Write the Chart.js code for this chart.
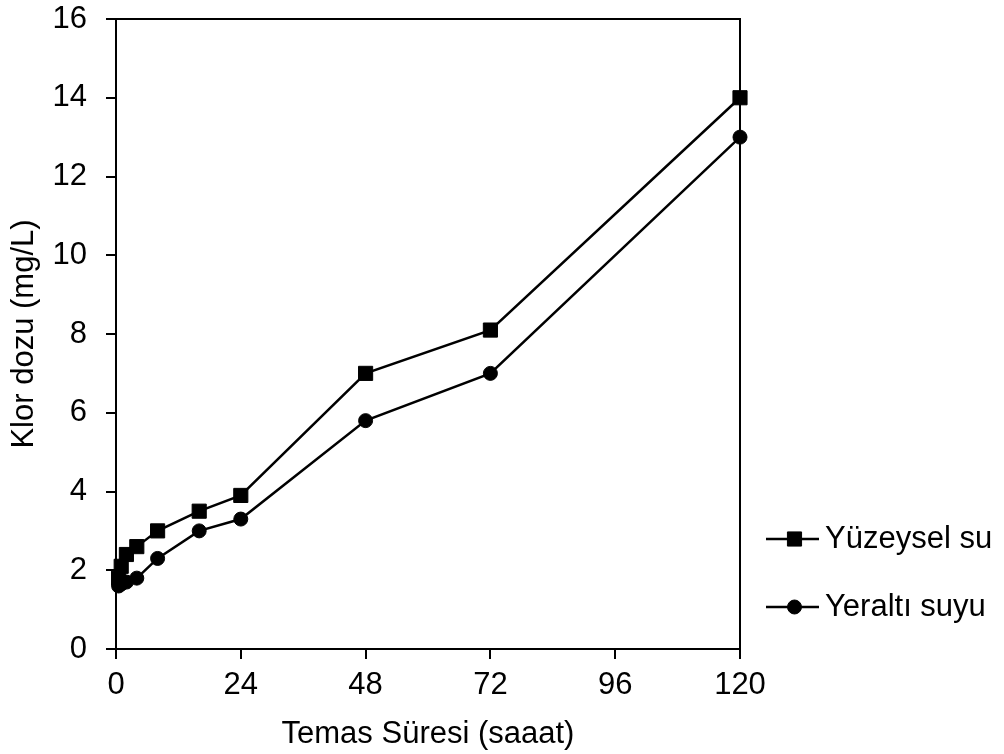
<!DOCTYPE html>
<html>
<head>
<meta charset="utf-8">
<script src="https://cdn.jsdelivr.net/npm/chart.js@4/dist/chart.umd.min.js"></script>
<style>
  html, body { margin: 0; padding: 0; background: #fff; }
  #wrap { width: 1004px; height: 754px; position: relative; }
</style>
</head>
<body>
<div id="wrap"><canvas id="c" width="1004" height="754"></canvas></div>
<script>
// Contact time (hours)
const hours = [0.5, 1, 2, 4, 8, 16, 24, 48, 72, 120];
// Chlorine dose (mg/L) per water source
const yuzeyselSu = [1.8, 2.1, 2.4, 2.6, 3.0, 3.5, 3.9, 7.0, 8.1, 14.0];
const yeraltiSuyu = [1.6, 1.65, 1.7, 1.8, 2.3, 3.0, 3.3, 5.8, 7.0, 13.0];
const seriesNames = ['Yüzeysel su', 'Yeraltı suyu'];
const xTicks = [0, 24, 48, 72, 96, 120];
const yTicks = [0, 2, 4, 6, 8, 10, 12, 14, 16];

const FONT = '"Liberation Sans", Arial, sans-serif';
const FSIZE = 31;

const toPoints = (vals) => hours.map((h, i) => ({ x: h, y: vals[i] }));

// Closed frame around the plot area
const framePlugin = {
  id: 'frame',
  afterDatasetsDraw(chart) {
    const { ctx, chartArea: a } = chart;
    ctx.save();
    ctx.strokeStyle = '#000';
    ctx.lineWidth = 2;
    ctx.beginPath();
    ctx.moveTo(a.left, a.top);
    ctx.lineTo(a.right, a.top);
    ctx.lineTo(a.right, a.bottom);
    ctx.stroke();
    ctx.restore();
  }
};

// Legend at the right: line segment with marker, then the series name
const sideLegend = {
  id: 'sideLegend',
  afterDraw(chart) {
    const { ctx } = chart;
    const x0 = 766, len = 53, textX = 825;
    const rows = [539, 607];
    ctx.save();
    chart.data.datasets.forEach((ds, i) => {
      const y = rows[i];
      ctx.strokeStyle = '#000';
      ctx.lineWidth = 2.5;
      ctx.beginPath();
      ctx.moveTo(x0, y);
      ctx.lineTo(x0 + len, y);
      ctx.stroke();
      ctx.fillStyle = '#000';
      ctx.lineWidth = 1;
      Chart.helpers.drawPoint(ctx, {
        pointStyle: ds.pointStyle,
        radius: ds.pointRadius,
        borderWidth: 1
      }, x0 + len / 2 + 2, y);
      ctx.fillStyle = '#000';
      ctx.font = FSIZE + 'px ' + FONT;
      ctx.textAlign = 'left';
      ctx.textBaseline = 'middle';
      ctx.fillText(ds.label, textX, y);
    });
    ctx.restore();
  }
};

new Chart(document.getElementById('c'), {
  type: 'line',
  data: {
    datasets: [
      {
        label: seriesNames[0],
        data: toPoints(yuzeyselSu),
        borderColor: '#000',
        backgroundColor: '#000',
        borderWidth: 2.5,
        pointStyle: 'rect',
        pointRadius: 10,
        pointBorderWidth: 1,
        pointBackgroundColor: '#000',
        pointBorderColor: '#000',
        clip: false,
        tension: 0
      },
      {
        label: seriesNames[1],
        data: toPoints(yeraltiSuyu),
        borderColor: '#000',
        backgroundColor: '#000',
        borderWidth: 2.5,
        pointStyle: 'circle',
        pointRadius: 7,
        pointBorderWidth: 1,
        pointBackgroundColor: '#000',
        pointBorderColor: '#000',
        clip: false,
        tension: 0
      }
    ]
  },
  options: {
    responsive: false,
    animation: false,
    devicePixelRatio: 1,
    layout: { padding: { top: 19, right: 264, left: 0, bottom: 0 } },
    plugins: {
      legend: { display: false },
      tooltip: { enabled: false }
    },
    scales: {
      x: {
        type: 'linear',
        min: 0,
        max: 120,
        afterBuildTicks: (s) => { s.ticks = xTicks.map(v => ({ value: v })); },
        afterFit: (s) => { s.height = 105; s.paddingLeft = 0; s.paddingRight = 0; },
        ticks: {
          color: '#000',
          font: { family: FONT, size: FSIZE },
          padding: 8,
          maxRotation: 0
        },
        grid: { drawOnChartArea: false, drawTicks: true, tickLength: 10, color: '#000', lineWidth: 2 },
        border: { display: true, color: '#000', width: 2 },
        title: {
          display: true,
          text: 'Temas Süresi (saaat)',
          color: '#000',
          font: { family: FONT, size: FSIZE },
          padding: { top: 0, bottom: 1 }
        }
      },
      y: {
        type: 'linear',
        min: 0,
        max: 16,
        afterBuildTicks: (s) => { s.ticks = yTicks.map(v => ({ value: v })); },
        afterFit: (s) => { s.width = 116; s.paddingTop = 0; s.paddingBottom = 0; },
        ticks: {
          color: '#000',
          font: { family: FONT, size: FSIZE },
          padding: 19
        },
        grid: { drawOnChartArea: false, drawTicks: true, tickLength: 10, color: '#000', lineWidth: 2 },
        border: { display: true, color: '#000', width: 2 },
        title: {
          display: true,
          text: 'Klor dozu (mg/L)',
          color: '#000',
          font: { family: FONT, size: FSIZE },
          padding: { top: 6, bottom: 0 }
        }
      }
    }
  },
  plugins: [framePlugin, sideLegend]
});
</script>
</body>
</html>
